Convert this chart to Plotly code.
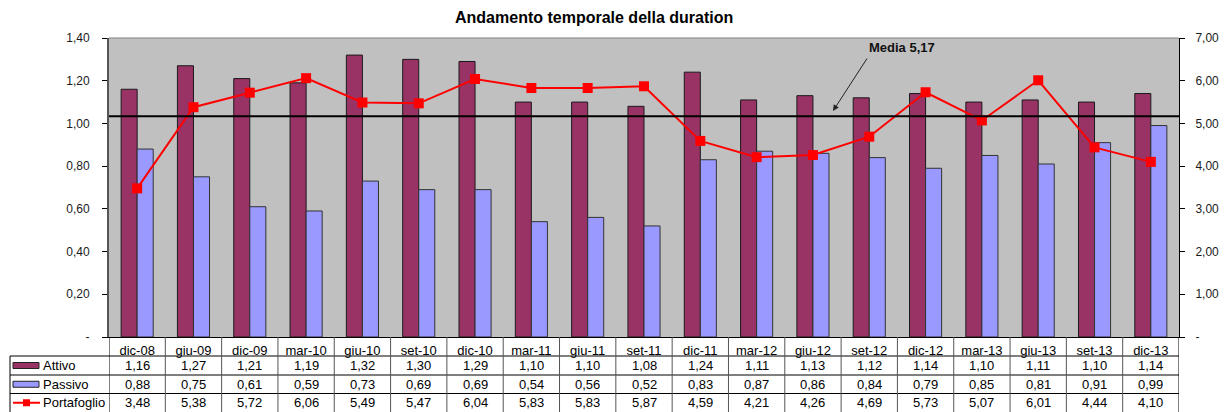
import plotly.graph_objects as go

categories = ["dic-08", "giu-09", "dic-09", "mar-10", "giu-10", "set-10", "dic-10", "mar-11",
              "giu-11", "set-11", "dic-11", "mar-12", "giu-12", "set-12", "dic-12", "mar-13",
              "giu-13", "set-13", "dic-13"]
attivo = [1.16, 1.27, 1.21, 1.19, 1.32, 1.30, 1.29, 1.10, 1.10, 1.08, 1.24, 1.11, 1.13, 1.12,
          1.14, 1.10, 1.11, 1.10, 1.14]
passivo = [0.88, 0.75, 0.61, 0.59, 0.73, 0.69, 0.69, 0.54, 0.56, 0.52, 0.83, 0.87, 0.86, 0.84,
           0.79, 0.85, 0.81, 0.91, 0.99]
portafoglio = [3.48, 5.38, 5.72, 6.06, 5.49, 5.47, 6.04, 5.83, 5.83, 5.87, 4.59, 4.21, 4.26,
               4.69, 5.73, 5.07, 6.01, 4.44, 4.10]
media = 5.17
left_ticks = [0, 0.2, 0.4, 0.6, 0.8, 1.0, 1.2, 1.4]
right_ticks = [0, 1, 2, 3, 4, 5, 6, 7]
title = "Andamento temporale della duration"
media_label = "Media 5,17"


def fmt(v):
    return f"{v:.2f}".replace(".", ",")


def tlabels(vals):
    return ["-" if v == 0 else fmt(v) for v in vals]


# page body has an 8px default margin: figure starts at (8, 8) in the window
OFF = 8
W, H = 1227 - OFF, 412 - OFF
# plot area in window pixel coordinates
L, R, T, B = 109, 1179, 38, 337
PW, PH = R - L, B - T


def px_x(p):
    return (p - L) / PW


def px_y(p):
    return (B - p) / PH


FONT = "Arial, Liberation Sans, sans-serif"
C_ATT = "#993366"
C_PAS = "#9999FF"
C_POR = "#FF0000"

fig = go.Figure()
fig.add_trace(go.Bar(x=categories, y=attivo, name="Attivo", marker=dict(color=C_ATT, line=dict(color="#1a1a1a", width=1))))
fig.add_trace(go.Bar(x=categories, y=passivo, name="Passivo", marker=dict(color=C_PAS, line=dict(color="#333333", width=1))))
fig.add_trace(go.Scatter(x=categories, y=portafoglio, name="Portafoglio", yaxis="y2", mode="lines+markers",
                         line=dict(color=C_POR, width=2), marker=dict(symbol="square", size=10, color=C_POR)))

shapes = []
annotations = []

# media line
shapes.append(dict(type="line", xref="paper", yref="y2", x0=0, x1=1, y0=media, y1=media,
                   line=dict(color="black", width=2)))

# table geometry
row_edges = [337, 356, 375, 393.5, 412]
lab_left = px_x(10)
for yy in row_edges[1:4]:
    shapes.append(dict(type="line", xref="paper", yref="paper", x0=lab_left, x1=1, y0=px_y(yy), y1=px_y(yy),
                       line=dict(color="black", width=1)))
shapes.append(dict(type="line", xref="paper", yref="paper", x0=lab_left, x1=lab_left, y0=px_y(356), y1=px_y(412),
                   line=dict(color="black", width=1)))
for i in range(len(categories) + 1):
    shapes.append(dict(type="line", xref="x", yref="paper", x0=i - 0.5, x1=i - 0.5, y0=0, y1=px_y(412),
                       line=dict(color="#555555" if 0 < i < len(categories) else "black", width=1)))

TF = dict(family=FONT, size=13, color="black")
rows = [("Attivo", attivo), ("Passivo", passivo), ("Portafoglio", portafoglio)]
for r, (name, vals) in enumerate(rows):
    yc = px_y((row_edges[r + 1] + row_edges[r + 2]) / 2)
    for c, v in zip(categories, vals):
        annotations.append(dict(x=c, y=yc, xref="x", yref="paper", text=fmt(v), showarrow=False,
                                font=TF, xanchor="center", yanchor="middle"))
    annotations.append(dict(x=px_x(41), y=yc, xref="paper", yref="paper", text=name, showarrow=False,
                            font=TF, xanchor="left", yanchor="middle"))

# legend keys
for (yc, col) in [((356 + 375) / 2, C_ATT), ((375 + 393.5) / 2, C_PAS)]:
    shapes.append(dict(type="rect", xref="paper", yref="paper", x0=px_x(13), x1=px_x(39),
                       y0=px_y(yc - 3), y1=px_y(yc + 3), fillcolor=col, line=dict(color="#222222", width=1)))
yc = (393.5 + 412) / 2
shapes.append(dict(type="line", xref="paper", yref="paper", x0=px_x(13), x1=px_x(40), y0=px_y(yc), y1=px_y(yc),
                   line=dict(color=C_POR, width=2)))
shapes.append(dict(type="rect", xref="paper", yref="paper", x0=px_x(23), x1=px_x(30), y0=px_y(yc - 3.5), y1=px_y(yc + 3.5),
                   fillcolor=C_POR, line=dict(color=C_POR, width=0)))

# plot border top
shapes.append(dict(type="line", xref="paper", yref="paper", x0=0, x1=1, y0=1, y1=1, line=dict(color="#808080", width=1)))

# title
annotations.append(dict(x=px_x(594), y=px_y(17), xref="paper", yref="paper", text="<b>" + title + "</b>",
                        showarrow=False, font=dict(family=FONT, size=16, color="black"), xanchor="center", yanchor="middle"))
# media label + arrow
annotations.append(dict(x=px_x(902), y=px_y(48), xref="paper", yref="paper", text="<b>" + media_label + "</b>",
                        showarrow=False, font=dict(family=FONT, size=13, color="#111111"), xanchor="center", yanchor="middle"))
annotations.append(dict(x=px_x(833), y=px_y(111), xref="paper", yref="paper", text="", showarrow=True,
                        ax=35, ay=-54, arrowhead=2, arrowsize=1.2, arrowwidth=1, arrowcolor="#222222"))

fig.update_layout(
    width=W, height=H,
    margin=dict(l=L - OFF, r=1227 - R, t=T - OFF, b=412 - B, pad=0, autoexpand=False),
    plot_bgcolor="#C0C0C0", paper_bgcolor="white",
    barmode="group", bargap=0.43, bargroupgap=0,
    showlegend=False,
    font=dict(family=FONT, size=12, color="#1a1a1a"),
    xaxis=dict(type="category", range=[-0.5, len(categories) - 0.5], autorange=False,
               showline=True, linecolor="black", linewidth=1, ticks="", showgrid=False,
               tickfont=dict(family=FONT, size=13, color="black"), ticklabelstandoff=1),
    yaxis=dict(range=[0, 1.4], autorange=False, tickvals=left_ticks, ticktext=tlabels(left_ticks), showgrid=False, zeroline=False,
               showline=True, linecolor="#555555", linewidth=2, ticks="outside", ticklen=5, tickcolor="black",
               ticklabelstandoff=10, tickfont=dict(family=FONT, size=12, color="#1a1a1a")),
    yaxis2=dict(range=[0, 7], autorange=False, tickvals=right_ticks, ticktext=tlabels(right_ticks), overlaying="y", side="right",
                showgrid=False, zeroline=False, showline=True, linecolor="black", linewidth=1, ticks="outside",
                ticklen=5, tickcolor="black", ticklabelstandoff=8, tickfont=dict(family=FONT, size=12, color="#1a1a1a")),
    shapes=shapes, annotations=annotations,
)

fig.write_html("out.html")
